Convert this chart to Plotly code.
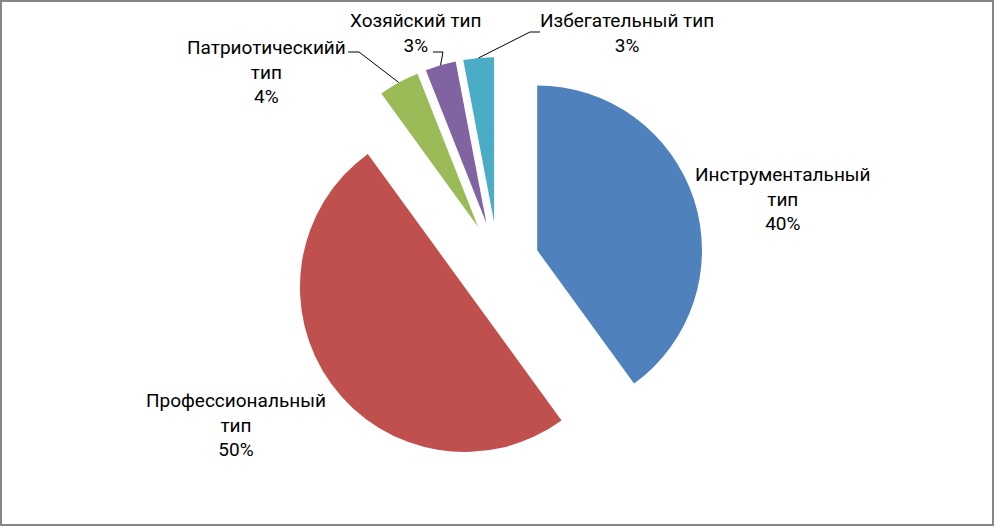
import math
import plotly.graph_objects as go

# --- данные ---
labels = ["Инструментальный тип", "Профессиональный тип", "Патриотическийй тип",
          "Хозяйский тип", "Избегательный тип"]
values = [40, 50, 4, 3, 3]
label_text = ["Инструментальный<br>тип", "Профессиональный<br>тип", "Патриотическийй<br>тип",
              "Хозяйский тип", "Избегательный тип"]
colors = ["#4F81BD", "#C0504D", "#9BBB59", "#8064A2", "#4BACC6"]

# --- размещение ---
W, H = 994, 526
M = dict(l=2, r=0, t=57, b=57)
PULL = 0.25
FONT = dict(family="Roboto", size=19, color="#000000")

# центры подписей (px) и начало выносок
label_pos = [(783, 199), (236, 425), (266, 72), (416, 33), (627, 33)]
leader = [None, None, ((348, 52), (359, 52)), ((433, 52), (443, 52)), ((540, 32), (530, 32))]

PW = W - M["l"] - M["r"]
PH = H - M["t"] - M["b"]
R = min(PW, PH) / (2 + 2 * PULL)
CX = M["l"] + PW / 2
CY = M["t"] + PH / 2


def px(x):
    return (x - M["l"]) / PW


def py(y):
    return 1 - (y - M["t"]) / PH


total = sum(values)
pcts = [v / total * 100 for v in values]

fig = go.Figure(go.Pie(
    labels=labels,
    values=values,
    sort=False,
    direction="clockwise",
    rotation=0,
    pull=[PULL] * len(values),
    marker=dict(colors=colors, line=dict(width=0)),
    textinfo="none",
    hoverinfo="label+percent",
    showlegend=False,
))

annotations = []
shapes = []
start = 0.0
for i, v in enumerate(values):
    mid = math.radians((start + v / 2) / total * 360)
    start += v
    x, y = label_pos[i]
    annotations.append(dict(
        x=px(x), y=py(y), xref="paper", yref="paper",
        text=f"{label_text[i]}<br>{pcts[i]:.0f}%",
        showarrow=False, align="center", xanchor="center", yanchor="middle",
        font=FONT,
    ))
    if leader[i]:
        # точка на дуге выдвинутого сектора
        ax = CX + R * (1 + PULL) * math.sin(mid)
        ay = CY - R * (1 + PULL) * math.cos(mid)
        (x0, y0), (x1, y1) = leader[i]
        shapes.append(dict(
            type="path", xref="paper", yref="paper",
            path=f"M {px(x0)} {py(y0)} L {px(x1)} {py(y1)} L {px(ax)} {py(ay)}",
            line=dict(color="#000000", width=1),
        ))

# рамка диаграммы
shapes.append(dict(
    type="rect", xref="paper", yref="paper",
    x0=px(1), y0=py(525), x1=px(993), y1=py(1),
    line=dict(color="#868686", width=2),
))

fig.update_layout(
    width=W, height=H,
    margin=M,
    paper_bgcolor="white",
    plot_bgcolor="white",
    annotations=annotations,
    shapes=shapes,
)

# убрать отступ body, чтобы график стоял в левом верхнем углу окна
fig.write_html(
    "out.html",
    config={"displayModeBar": False},
    post_script="document.body.style.margin='0';document.body.style.overflow='hidden';",
)
